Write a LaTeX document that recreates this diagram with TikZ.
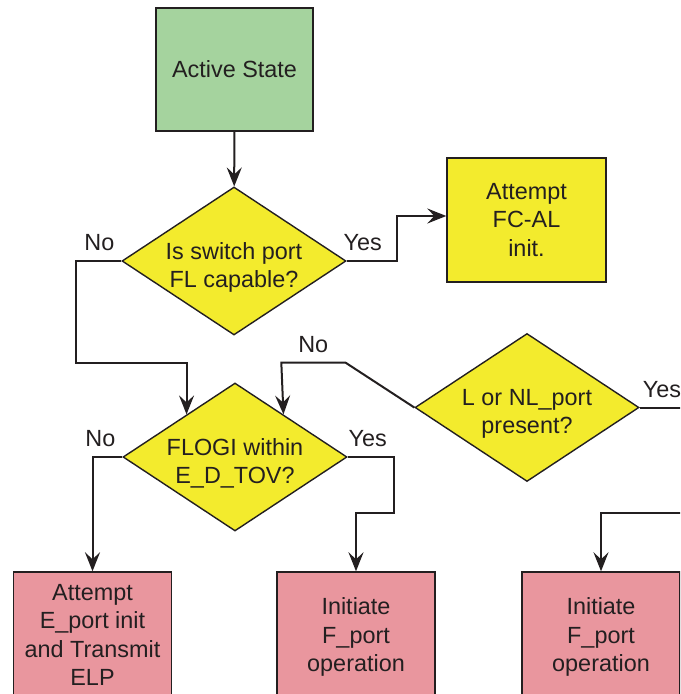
\documentclass[tikz,border=0pt]{standalone}
\usepackage{fontspec}
\setmainfont{Liberation Sans}
\usepackage{xcolor}
\usetikzlibrary{arrows.meta,shapes.geometric,calc}
\definecolor{stategreen}{RGB}{165,211,158}
\definecolor{askyellow}{RGB}{243,235,45}
\definecolor{portpink}{RGB}{233,150,158}
\definecolor{inkgray}{RGB}{35,31,32}

\begin{document}
\begin{tikzpicture}[
    x=0.5pt, y=-0.5pt,
    every node/.style={font=\fontsize{11.7}{14.2}\selectfont, align=center, text=inkgray},
    statebox/.style={rectangle, draw=inkgray, fill=stategreen, minimum width=78.5pt, minimum height=61.5pt, line width=0.7pt, inner sep=0pt},
    actbox/.style={rectangle, draw=inkgray, fill=askyellow, minimum width=79.5pt, minimum height=62pt, line width=0.7pt, inner sep=0pt},
    portbox/.style={rectangle, draw=inkgray, fill=portpink, minimum width=79pt, minimum height=65pt, line width=0.7pt, inner sep=0pt},
    askbox/.style={diamond, draw=inkgray, fill=askyellow, aspect=1.5, minimum width=112pt, minimum height=74pt, line width=0.7pt, inner sep=0pt},
    asktext/.style={yshift=-3.2pt},
    lbl/.style={inner xsep=0pt, inner ysep=4.5pt},
    arr/.style={-{Stealth[length=9.5pt, width=7.5pt, inset=3.5pt]}, line width=1pt, draw=inkgray}
]
\path[use as bounding box, clip] (0,0) rectangle (680,694);

% Row 1: start & first check
\node[statebox] (active) at (234.5,69.5) {Active State};
\node[askbox, label={[asktext, name=flcapt]center:Is switch port\\FL capable?}] (flcap) at (234,261) {};
\node[actbox] (fcal) at (526.5,220) {Attempt\\FC-AL\\init.};

% Row 2: checks
\node[askbox, label={[asktext, name=flogit]center:FLOGI within\\E\_D\_TOV?}] (flogi) at (235,457) {};
\node[askbox, label={[asktext, name=nlportt]center:L or NL\_port\\present?}] (nlport) at (527,407.5) {};

% Row 3: port actions
\node[portbox, minimum height=63pt] (eport) at (92.5,635) {Attempt\\E\_port init\\and Transmit\\ELP};
\node[portbox] (fport) at (356,637) {Initiate\\F\_port\\operation};
\node[portbox] (fportb) at (601,637) {Initiate\\F\_port\\operation};

% Connector ends
\coordinate (flogiL) at ($(flogi.north)!0.43!(flogi.west)$);
\coordinate (flogiR) at ($(flogi.north)!0.43!(flogi.east)$);
\coordinate (yesout) at (684,407.5);
\coordinate (fromright) at (690,513);

% Connections
\draw[arr] (active) -- (flcap);
\draw[arr] (flcap.east) node[lbl, above right, xshift=-2pt] {Yes} -- ++(50,0) |- ($(fcal.west)+(0,-4)$);
\draw[arr] (flcap.west) node[lbl, above left, xshift=-3pt] {No} -- ++(-45,0) |- ($(flogiL)+(0,-51)$) -- (flogiL);
\draw[arr] (nlport.west) -- ++(-69,-45) -- node[lbl, above] {No} ++(-64,0) -- (flogiR);
\draw (nlport.east) [line width=1pt, draw=inkgray] -- node[lbl, above] {Yes} (yesout);
\draw[arr] (flogi.west) node[lbl, above left, xshift=-3pt] {No} -| (eport.north);
\draw[arr] (flogi.east) node[lbl, above right] {Yes} -- ++(46,0) |- ($(fport.north)+(0,-58)$) -- (fport.north);
\draw[arr] (fromright) -| (fportb.north);

\end{tikzpicture}
\end{document}
